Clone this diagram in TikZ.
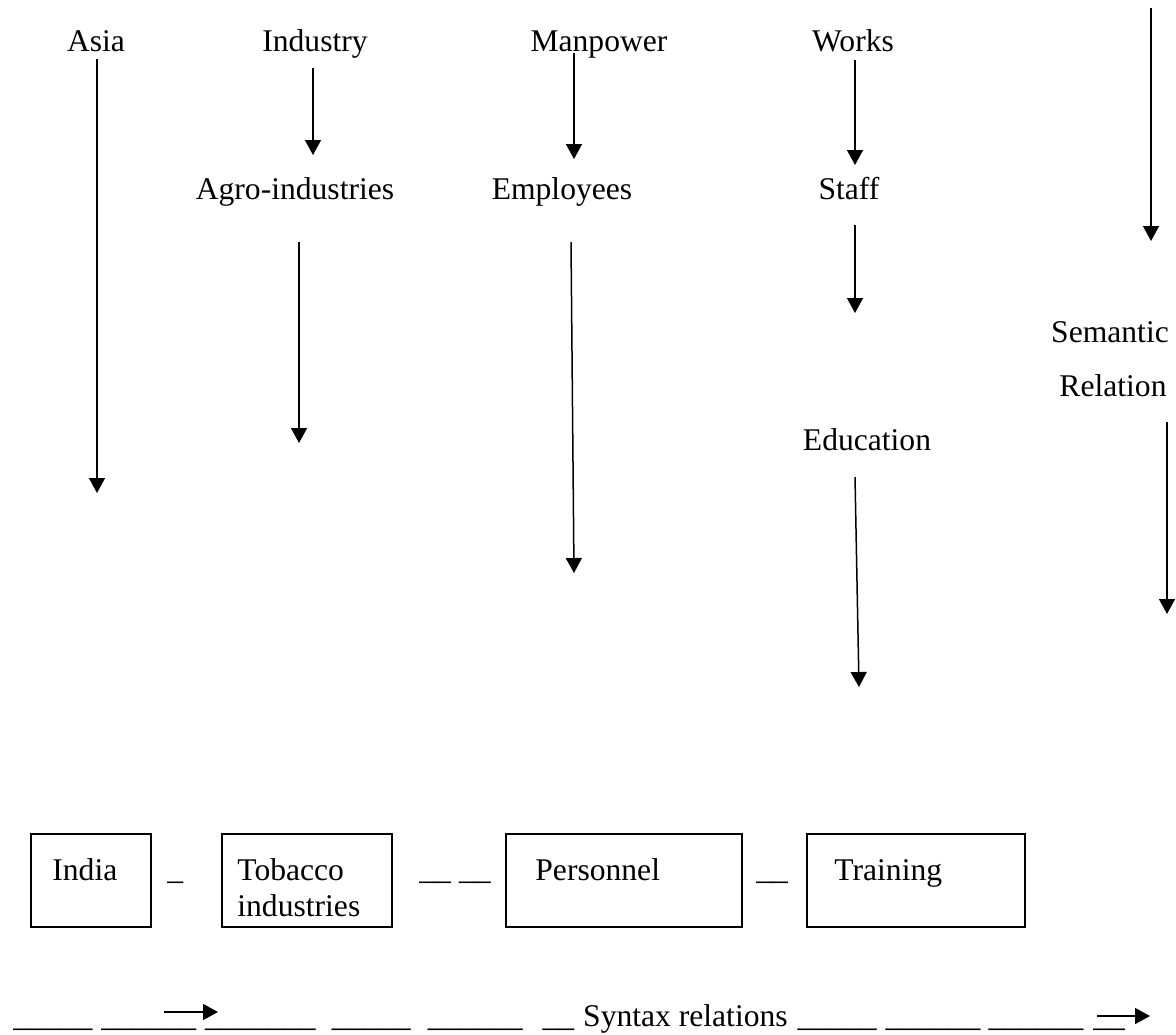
\documentclass[tikz,border=0pt]{standalone}
\usepackage{fontspec}
\setmainfont{Liberation Serif}
\usetikzlibrary{arrows.meta}
\newcommand{\us}{\_}
\begin{document}
\begin{tikzpicture}[x=0.5pt,y=-0.5pt,
  txt/.style={inner sep=0pt, font=\fontsize{15.8pt}{18pt}\selectfont},
  wordbox/.style={draw, line width=0.9pt, inner sep=0pt},
  arr/.style={line width=0.75pt, -{Triangle[length=7.5pt,width=8pt]}}]
\useasboundingbox (0,0) rectangle (1176,1034);

% top labels
\node[txt, anchor=base] (asia) at (96,51) {Asia};
\node[txt, anchor=base] (industry) at (315,51) {Industry};
\node[txt, anchor=base] (manpower) at (599,51) {Manpower};
\node[txt, anchor=base] (works) at (853,51) {Works};
\node[txt, anchor=base] (agro) at (295,199) {Agro-industries};
\node[txt, anchor=base] (employees) at (562,199) {Employees};
\node[txt, anchor=base] (staff) at (849,199) {Staff};
\node[txt, anchor=base] (semantic) at (1110,342) {Semantic};
\node[txt, anchor=base] (relation) at (1113,396) {Relation};
\node[txt, anchor=base] (education) at (867,450) {Education};

% arrow end points
\coordinate (asiaS) at (97,59);   \coordinate (asiaE) at (97,493);
\coordinate (indS) at (313,68);   \coordinate (indE) at (313,155);
\coordinate (manS) at (574,53);   \coordinate (manE) at (574,159);
\coordinate (worS) at (855,60);   \coordinate (worE) at (855,165);
\coordinate (agrS) at (299,242);  \coordinate (agrE) at (299,443);
\coordinate (empS) at (571,242);  \coordinate (empE) at (574,573);
\coordinate (staS) at (855,225);  \coordinate (staE) at (855,313);
\coordinate (eduS) at (855,477);  \coordinate (eduE) at (859,687);
\coordinate (semS) at (1151,8);   \coordinate (semE) at (1151,241);
\coordinate (relS) at (1167,422); \coordinate (relE) at (1167,614);
\coordinate (synAS) at (164,1012); \coordinate (synAE) at (218,1012);
\coordinate (synBS) at (1097,1016); \coordinate (synBE) at (1150,1016);

\draw[arr] (asiaS) -- (asiaE);
\draw[arr] (indS) -- (indE);
\draw[arr] (manS) -- (manE);
\draw[arr] (worS) -- (worE);
\draw[arr] (agrS) -- (agrE);
\draw[arr] (empS) -- (empE);
\draw[arr] (staS) -- (staE);
\draw[arr] (eduS) -- (eduE);
\draw[arr] (semS) -- (semE);
\draw[arr] (relS) -- (relE);
\draw[arr] (synAS) -- (synAE);
\draw[arr] (synBS) -- (synBE);

% boxes
\node[wordbox, minimum width=60pt, minimum height=46.5pt] (boxIndia) at (91,880.5) {};
\node[wordbox, minimum width=85pt, minimum height=46.5pt] (boxTobacco) at (307,880.5) {};
\node[wordbox, minimum width=118pt, minimum height=46.5pt] (boxPersonnel) at (624,880.5) {};
\node[wordbox, minimum width=109pt, minimum height=46.5pt] (boxTraining) at (916,880.5) {};

\node[txt, anchor=base west] (india) at (52,880) {India};
\node[txt, anchor=base west] (tobacco) at (237,880) {Tobacco};
\node[txt, anchor=base west] (industries) at (237,916) {industries};
\node[txt, anchor=base west] (personnel) at (535,880) {Personnel};
\node[txt, anchor=base west] (training) at (834,880) {Training};

\node[txt, anchor=base west] (dashA) at (167,879) {\us};
\node[txt, anchor=base west] (dashB) at (419,879) {\us\us\hspace{4pt}\us\us};
\node[txt, anchor=base west] (dashC) at (756,879) {\us\us};

% bottom syntax line
\node[txt, anchor=base west] (syntax) at (13,1026) {\us\us\us\us\us\hspace{4.5pt}\us\us\us\us\us\us\hspace{4.5pt}\us\us\us\us\us\us\us\hspace{8pt}\us\us\us\us\us\hspace{8.5pt}\us\us\us\us\us\us\hspace{10pt}\us\us\hspace{4.5pt}Syntax relations\hspace{5pt}\us\us\us\us\us\hspace{4.5pt}\us\us\us\us\us\us\hspace{4pt}\us\us\us\us\us\us\hspace{5pt}\us\us};
\end{tikzpicture}
\end{document}
